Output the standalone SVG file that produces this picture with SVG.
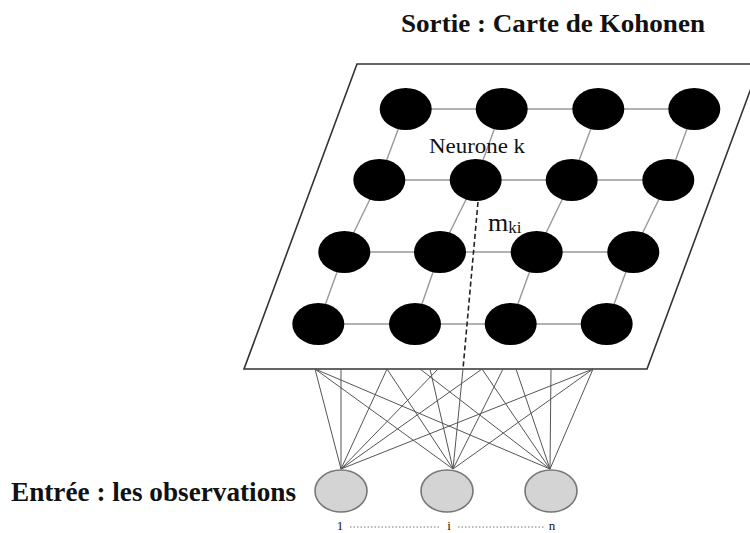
<svg xmlns="http://www.w3.org/2000/svg" width="750" height="533" viewBox="0 0 750 533">
<style>
.plane{fill:#fff;stroke:#333;stroke-width:1.6}
.grid{stroke:#999;stroke-width:1.4;fill:none}
.neuron{fill:#000}
.input{fill:#d4d4d4;stroke:#777;stroke-width:1.6}
.link{stroke:#555;stroke-width:1;fill:none}
.dash{stroke:#222;stroke-width:1.6;stroke-dasharray:5 3;fill:none}
.dots{stroke:#777;stroke-width:1;stroke-dasharray:1.5 2}
.bold{font-family:"Liberation Serif","Times New Roman",serif;font-weight:bold;fill:#111}
.reg{font-family:"Liberation Serif","Times New Roman",serif;fill:#111}
</style>
<rect width="750" height="533" fill="#fff"/>
<g id="map">
<polygon class="plane" points="357,64 760,64 647,369 244,369"/>
<g id="grid-lines" class="grid">
<line x1="405.7" y1="109" x2="694.3" y2="109"/>
<line x1="379.3" y1="180" x2="668.3" y2="180"/>
<line x1="344.3" y1="252" x2="633.3" y2="252"/>
<line x1="318.3" y1="324" x2="606.7" y2="324"/>
<polyline points="405.7,109 379.3,180 344.3,252 318.3,324"/>
<polyline points="501.7,109 475.7,180 440,252 415,324"/>
<polyline points="598.3,109 571.7,180 536.7,252 510.7,324"/>
<polyline points="694.3,109 668.3,180 633.3,252 606.7,324"/>
</g>
</g>
<g id="connectors">
<line class="dash" x1="478" y1="202" x2="463" y2="369"/>
<g class="link">
<line x1="315" y1="369" x2="341" y2="469"/>
<line x1="341" y1="369" x2="341" y2="469"/>
<line x1="387" y1="369" x2="341" y2="469"/>
<line x1="438" y1="369" x2="341" y2="469"/>
<line x1="482" y1="369" x2="341" y2="469"/>
<line x1="593" y1="369" x2="341" y2="469"/>
<line x1="315" y1="369" x2="453" y2="469"/>
<line x1="387" y1="369" x2="453" y2="469"/>
<line x1="430" y1="369" x2="453" y2="469"/>
<line x1="463" y1="369" x2="453" y2="469"/>
<line x1="503" y1="369" x2="453" y2="469"/>
<line x1="593" y1="369" x2="453" y2="469"/>
<line x1="315" y1="369" x2="550" y2="469"/>
<line x1="420" y1="369" x2="550" y2="469"/>
<line x1="482" y1="369" x2="550" y2="469"/>
<line x1="516" y1="369" x2="550" y2="469"/>
<line x1="551" y1="369" x2="550" y2="469"/>
<line x1="593" y1="369" x2="550" y2="469"/>
</g>
</g>
<g id="neurons">
<ellipse id="n11" class="neuron" cx="405.7" cy="109" rx="26" ry="21"/>
<ellipse id="n12" class="neuron" cx="501.7" cy="109" rx="26" ry="21"/>
<ellipse id="n13" class="neuron" cx="598.3" cy="109" rx="26" ry="21"/>
<ellipse id="n14" class="neuron" cx="694.3" cy="109" rx="26" ry="21"/>
<ellipse id="n21" class="neuron" cx="379.3" cy="180" rx="26" ry="21"/>
<ellipse id="neurone-k" class="neuron" cx="475.7" cy="180" rx="26" ry="21"/>
<ellipse id="n23" class="neuron" cx="571.7" cy="180" rx="26" ry="21"/>
<ellipse id="n24" class="neuron" cx="668.3" cy="180" rx="26" ry="21"/>
<ellipse id="n31" class="neuron" cx="344.3" cy="252" rx="26" ry="21"/>
<ellipse id="n32" class="neuron" cx="440" cy="252" rx="26" ry="21"/>
<ellipse id="n33" class="neuron" cx="536.7" cy="252" rx="26" ry="21"/>
<ellipse id="n34" class="neuron" cx="633.3" cy="252" rx="26" ry="21"/>
<ellipse id="n41" class="neuron" cx="318.3" cy="324" rx="26" ry="21"/>
<ellipse id="n42" class="neuron" cx="415" cy="324" rx="26" ry="21"/>
<ellipse id="n43" class="neuron" cx="510.7" cy="324" rx="26" ry="21"/>
<ellipse id="n44" class="neuron" cx="606.7" cy="324" rx="26" ry="21"/>
</g>
<g id="input-1"><ellipse class="input" cx="341" cy="491" rx="26" ry="21"/></g>
<g id="input-i"><ellipse class="input" cx="447" cy="491" rx="26" ry="21"/></g>
<g id="input-n"><ellipse class="input" cx="551" cy="491" rx="26" ry="21"/></g>
<g id="labels">
<text class="bold" x="401" y="32" font-size="26" textLength="304" lengthAdjust="spacingAndGlyphs">Sortie : Carte de Kohonen</text>
<text class="bold" x="11" y="501" font-size="27" textLength="285" lengthAdjust="spacingAndGlyphs">Entrée : les observations</text>
<text class="reg" x="429" y="153" font-size="22" textLength="96" lengthAdjust="spacingAndGlyphs">Neurone k</text>
<text class="reg" x="488" y="231" font-size="26">m<tspan font-size="17" dy="2">ki</tspan></text>
<text class="reg" x="340" y="530" font-size="13" text-anchor="middle">1</text>
<text class="reg" x="449" y="530" font-size="13" text-anchor="middle">i</text>
<text class="reg" x="552" y="530" font-size="13" text-anchor="middle">n</text>
<line class="dots" x1="350" y1="527" x2="440" y2="527"/>
<line class="dots" x1="458" y1="527" x2="544" y2="527"/>
</g>
</svg>
